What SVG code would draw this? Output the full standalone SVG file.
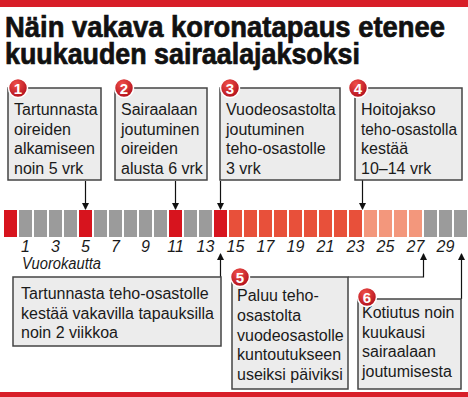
<svg xmlns="http://www.w3.org/2000/svg" width="468" height="397" viewBox="0 0 468 397">
<defs>
<radialGradient id="bg" cx="0.4" cy="0.3" r="0.7">
<stop offset="0" stop-color="#f0504a"/>
<stop offset="1" stop-color="#b3101c"/>
</radialGradient>
<marker id="ah" markerWidth="7" markerHeight="7" refX="6" refY="3.5" orient="auto" markerUnits="userSpaceOnUse">
<path d="M0,0 L7,3.5 L0,7 Z" fill="#111"/>
</marker>
<style>
.title{font-family:"Liberation Sans",Arial,sans-serif;font-weight:bold;font-size:29px;fill:#111;stroke:#111;stroke-width:0.7px}
.box{fill:#ececec;stroke:#444;stroke-width:1.5}
.t{font-family:"Liberation Sans",Arial,sans-serif;font-size:16px;fill:#1a1a1a}
.num{font-family:"Liberation Sans",Arial,sans-serif;font-size:16px;font-style:italic;fill:#1a1a1a;text-anchor:middle}
.badge{fill:url(#bg);stroke:#fff;stroke-width:1.5}
.bn{font-family:"Liberation Sans",Arial,sans-serif;font-weight:bold;font-size:15px;fill:#fff;text-anchor:middle}
.c{stroke:#111;stroke-width:1.2;fill:none}
.r{fill:#d7141e}.g{fill:#9b9b9b}.o{fill:#e8503a}.s{fill:#f3977c}
</style>
</defs>
<rect x="0" y="0" width="468" height="7" fill="#d81e28"/>
<rect x="0" y="392" width="468" height="5" fill="#d81e28"/>
<text class="title" x="5" y="37" textLength="440" lengthAdjust="spacingAndGlyphs">Näin vakava koronatapaus etenee</text>
<text class="title" x="5" y="64" textLength="355" lengthAdjust="spacingAndGlyphs">kuukauden sairaalajaksoksi</text>

<g id="timeline">
<rect class="r" x="4" y="210" width="13" height="27"/>
<rect class="g" x="19" y="210" width="13" height="27"/>
<rect class="g" x="34" y="210" width="13" height="27"/>
<rect class="g" x="49" y="210" width="13" height="27"/>
<rect class="g" x="64" y="210" width="13" height="27"/>
<rect class="r" x="79" y="210" width="13" height="27"/>
<rect class="g" x="94" y="210" width="13" height="27"/>
<rect class="g" x="109" y="210" width="13" height="27"/>
<rect class="g" x="124" y="210" width="13" height="27"/>
<rect class="g" x="139" y="210" width="13" height="27"/>
<rect class="g" x="154" y="210" width="13" height="27"/>
<rect class="r" x="169" y="210" width="13" height="27"/>
<rect class="g" x="184" y="210" width="13" height="27"/>
<rect class="g" x="199" y="210" width="13" height="27"/>
<rect class="r" x="214" y="210" width="13" height="27"/>
<rect class="o" x="229" y="210" width="13" height="27"/>
<rect class="o" x="244" y="210" width="13" height="27"/>
<rect class="o" x="259" y="210" width="13" height="27"/>
<rect class="o" x="274" y="210" width="13" height="27"/>
<rect class="o" x="289" y="210" width="13" height="27"/>
<rect class="o" x="304" y="210" width="13" height="27"/>
<rect class="o" x="319" y="210" width="13" height="27"/>
<rect class="o" x="334" y="210" width="13" height="27"/>
<rect class="o" x="349" y="210" width="13" height="27"/>
<rect class="s" x="364" y="210" width="13" height="27"/>
<rect class="s" x="379" y="210" width="13" height="27"/>
<rect class="s" x="394" y="210" width="13" height="27"/>
<rect class="s" x="409" y="210" width="13" height="27"/>
<rect class="g" x="424" y="210" width="13" height="27"/>
<rect class="g" x="439" y="210" width="13" height="27"/>
<rect class="g" x="454" y="210" width="13" height="27"/>
<text class="num" x="25.5" y="252">1</text>
<text class="num" x="55.5" y="252">3</text>
<text class="num" x="85.5" y="252">5</text>
<text class="num" x="115.5" y="252">7</text>
<text class="num" x="145.5" y="252">9</text>
<text class="num" x="175.5" y="252">11</text>
<text class="num" x="205.5" y="252">13</text>
<text class="num" x="235.5" y="252">15</text>
<text class="num" x="265.5" y="252">17</text>
<text class="num" x="295.5" y="252">19</text>
<text class="num" x="325.5" y="252">21</text>
<text class="num" x="355.5" y="252">23</text>
<text class="num" x="385.5" y="252">25</text>
<text class="num" x="415.5" y="252">27</text>
<text class="num" x="445.5" y="252">29</text>
<text class="num" x="22" y="269" style="text-anchor:start" textLength="79" lengthAdjust="spacingAndGlyphs">Vuorokautta</text>
</g>

<g id="connectors">
<line class="c" x1="85.5" y1="181" x2="85.5" y2="209" marker-end="url(#ah)"/>
<line class="c" x1="175.5" y1="181" x2="175.5" y2="209" marker-end="url(#ah)"/>
<line class="c" x1="220.5" y1="181" x2="220.5" y2="209" marker-end="url(#ah)"/>
<line class="c" x1="362.5" y1="180" x2="362.5" y2="209" marker-end="url(#ah)"/>
<line class="c" x1="220.5" y1="277" x2="220.5" y2="254" marker-end="url(#ah)"/>
<polyline class="c" points="348,277 423.5,277 423.5,254" marker-end="url(#ah)"/>
<line class="c" x1="461.5" y1="299" x2="461.5" y2="254" marker-end="url(#ah)"/>
</g>

<g id="n1">
<rect class="box" x="8" y="88" width="93" height="92"/>
<text class="t" x="14" y="115">Tartunnasta</text>
<text class="t" x="14" y="134.5">oireiden</text>
<text class="t" x="14" y="154">alkamiseen</text>
<text class="t" x="14" y="173.5">noin 5 vrk</text>
<circle class="badge" cx="18" cy="88" r="9.5"/>
<text class="bn" x="18" y="93.5">1</text>
</g>
<g id="n2">
<rect class="box" x="115" y="88" width="92" height="92"/>
<text class="t" x="121" y="115">Sairaalaan</text>
<text class="t" x="121" y="134.5">joutuminen</text>
<text class="t" x="121" y="154">oireiden</text>
<text class="t" x="121" y="173.5">alusta 6 vrk</text>
<circle class="badge" cx="124" cy="88" r="9.5"/>
<text class="bn" x="124" y="93.5">2</text>
</g>
<g id="n3">
<rect class="box" x="220" y="88" width="120" height="92"/>
<text class="t" x="226" y="115">Vuodeosastolta</text>
<text class="t" x="226" y="134.5">joutuminen</text>
<text class="t" x="226" y="154">teho-osastolle</text>
<text class="t" x="226" y="173.5">3 vrk</text>
<circle class="badge" cx="230" cy="88" r="9.5"/>
<text class="bn" x="230" y="93.5">3</text>
</g>
<g id="n4">
<rect class="box" x="355" y="88" width="107" height="92"/>
<text class="t" x="361" y="115">Hoitojakso</text>
<text class="t" x="361" y="134.5" textLength="96" lengthAdjust="spacingAndGlyphs">teho-osastolla</text>
<text class="t" x="361" y="154">kestää</text>
<text class="t" x="361" y="173.5">10–14 vrk</text>
<circle class="badge" cx="358" cy="88" r="9.5"/>
<text class="bn" x="358" y="93.5">4</text>
</g>
<g id="n7">
<rect class="box" x="13" y="277" width="208" height="69"/>
<text class="t" x="21" y="299">Tartunnasta teho-osastolle</text>
<text class="t" x="21" y="318.5">kestää vakavilla tapauksilla</text>
<text class="t" x="21" y="338">noin 2 viikkoa</text>
</g>
<g id="n5">
<rect class="box" x="232" y="277" width="116" height="112"/>
<text class="t" x="237" y="301">Paluu teho-</text>
<text class="t" x="237" y="321">osastolta</text>
<text class="t" x="237" y="340.5">vuodeosastolle</text>
<text class="t" x="237" y="360">kuntoutukseen</text>
<text class="t" x="237" y="379.5">useiksi päiviksi</text>
<circle class="badge" cx="240" cy="277" r="9.5"/>
<text class="bn" x="240" y="282.5">5</text>
</g>
<g id="n6">
<rect class="box" x="358" y="299" width="103" height="90"/>
<text class="t" x="362" y="318">Kotiutus noin</text>
<text class="t" x="362" y="337.5">kuukausi</text>
<text class="t" x="362" y="357">sairaalaan</text>
<text class="t" x="362" y="376.5">joutumisesta</text>
<circle class="badge" cx="367" cy="297" r="9.5"/>
<text class="bn" x="367" y="302.5">6</text>
</g>
</svg>
